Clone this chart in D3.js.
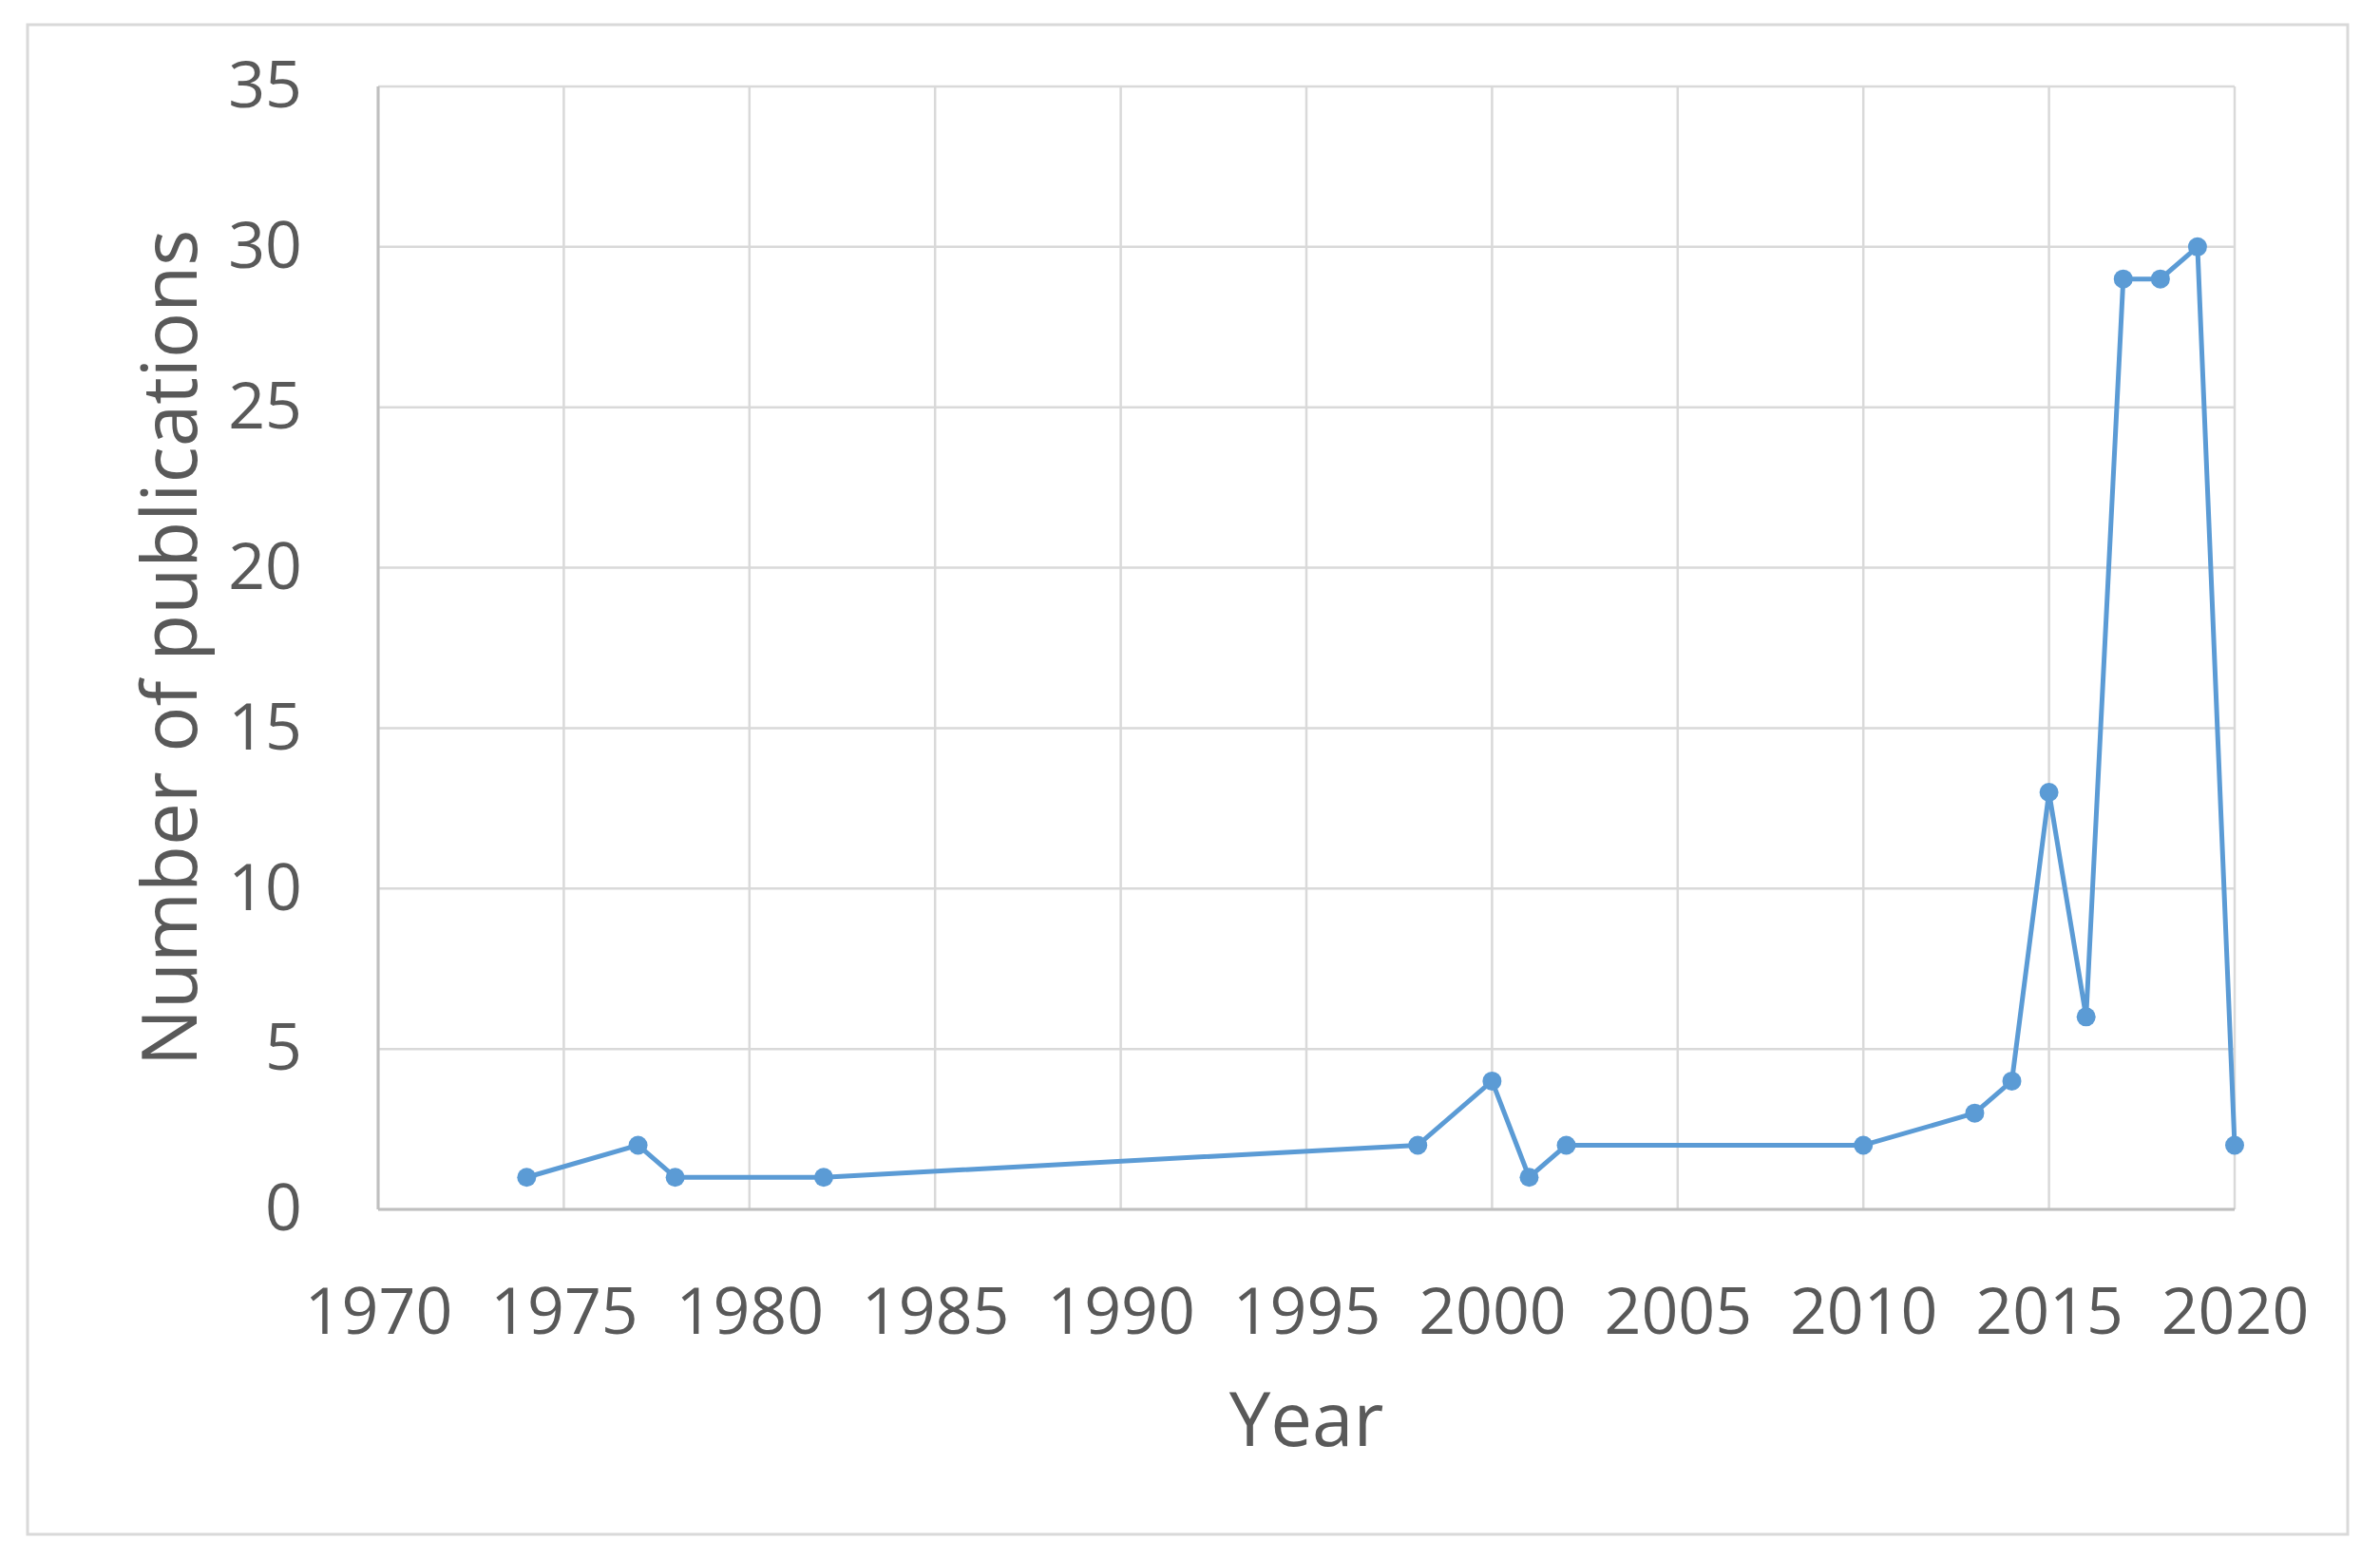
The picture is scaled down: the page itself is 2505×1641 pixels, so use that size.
<!DOCTYPE html>
<html>
<head>
<meta charset="utf-8">
<script src="https://cdn.jsdelivr.net/npm/d3@7"></script>
<style>
  html, body { margin: 0; padding: 0; background: #fff; }
  svg { display: block; }
  text { font-family: "Open Sans", "Noto Sans", sans-serif; fill: #595959; }
</style>
</head>
<body>
<script>
const years = [1974, 1977, 1978, 1982, 1998, 2000, 2001, 2002, 2010, 2013, 2014, 2015, 2016, 2017, 2018, 2019, 2020];
const publications = [1, 2, 1, 1, 2, 4, 1, 2, 2, 3, 4, 13, 6, 29, 29, 30, 2];
const xTicks = [1970, 1975, 1980, 1985, 1990, 1995, 2000, 2005, 2010, 2015, 2020];
const yTicks = [0, 5, 10, 15, 20, 25, 30, 35];
const xTitle = "Year";
const yTitle = "Number of publications";

const W = 2505, H = 1641;
const margin = { left: 398, right: W - 2352, top: 91, bottom: H - 1273 };
const svg = d3.select("body").append("svg").attr("width", W).attr("height", H);

// outer frame
svg.append("rect").attr("x", 29).attr("y", 26).attr("width", 2471 - 29).attr("height", 1615 - 26)
  .attr("fill", "#fff").attr("stroke", "#d9d9d9").attr("stroke-width", 3);

const x = d3.scaleLinear().domain([1970, 2020]).range([margin.left, W - margin.right]);
const y = d3.scaleLinear().domain([0, 35]).range([H - margin.bottom, margin.top]);

// gridlines
svg.append("g").selectAll("line.v").data(xTicks).join("line")
  .attr("x1", d => x(d)).attr("x2", d => x(d)).attr("y1", y(0)).attr("y2", y(35))
  .attr("stroke", "#d9d9d9").attr("stroke-width", 2.5);
svg.append("g").selectAll("line.h").data(yTicks).join("line")
  .attr("x1", x(1970)).attr("x2", x(2020)).attr("y1", d => y(d)).attr("y2", d => y(d))
  .attr("stroke", "#d9d9d9").attr("stroke-width", 2.5);

// axes lines (slightly darker)
svg.append("line").attr("x1", x(1970)).attr("x2", x(2020)).attr("y1", y(0)).attr("y2", y(0))
  .attr("stroke", "#bfbfbf").attr("stroke-width", 3);
svg.append("line").attr("x1", x(1970)).attr("x2", x(1970)).attr("y1", y(0)).attr("y2", y(35))
  .attr("stroke", "#bfbfbf").attr("stroke-width", 3);

// axes via d3 axis generators (labels only)
const xAxis = svg.append("g").attr("transform", `translate(0,${y(0)})`)
  .call(d3.axisBottom(x).tickValues(xTicks).tickFormat(d3.format("d")).tickSize(0).tickPadding(83));
xAxis.select(".domain").remove();
xAxis.selectAll("text").style("font-size", "68px").attr("fill", "#595959")
  .style("font-family", '"Open Sans", sans-serif');

const yAxis = svg.append("g").attr("transform", `translate(${x(1970)},0)`)
  .call(d3.axisLeft(y).tickValues(yTicks).tickSize(0).tickPadding(80));
yAxis.select(".domain").remove();
yAxis.selectAll("text").style("font-size", "68px").attr("fill", "#595959")
  .style("font-family", '"Open Sans", sans-serif');

// axis titles
svg.append("text").attr("x", (x(1970) + x(2020)) / 2).attr("y", 1522)
  .attr("text-anchor", "middle").style("font-size", "78px").text(xTitle);
svg.append("text").attr("transform", `translate(207,${(y(0) + y(35)) / 2}) rotate(-90)`)
  .attr("text-anchor", "middle").style("font-size", "80px").text(yTitle);

// series
const data = years.map((yr, i) => ({ yr, v: publications[i] }));
const line = d3.line().x(d => x(d.yr)).y(d => y(d.v));
svg.append("path").datum(data).attr("d", line)
  .attr("fill", "none").attr("stroke", "#5B9BD5").attr("stroke-width", 5).attr("stroke-linejoin", "round");
svg.append("g").selectAll("circle").data(data).join("circle")
  .attr("cx", d => x(d.yr)).attr("cy", d => y(d.v)).attr("r", 10)
  .attr("fill", "#5B9BD5");
</script>
</body>
</html>
